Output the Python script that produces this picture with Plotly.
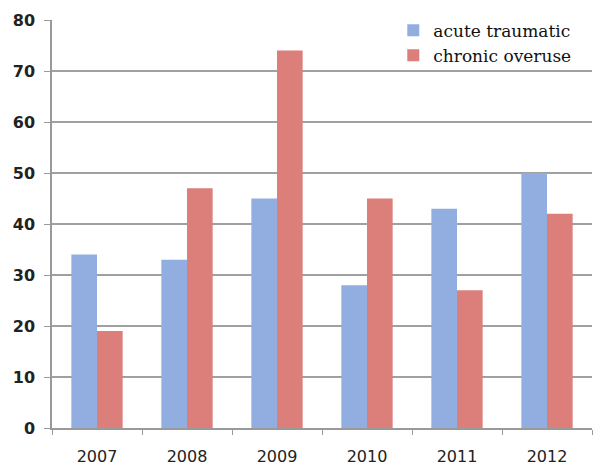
import plotly.graph_objects as go

years = ["2007", "2008", "2009", "2010", "2011", "2012"]
acute = [34, 33, 45, 28, 43, 50]
chronic = [19, 47, 74, 45, 27, 42]
y_ticks = [0, 10, 20, 30, 40, 50, 60, 70, 80]

fig = go.Figure()
fig.add_trace(go.Bar(name="acute traumatic", x=years, y=acute,
                     marker=dict(color="#92aee1", line=dict(width=0))))
fig.add_trace(go.Bar(name="chronic overuse", x=years, y=chronic,
                     marker=dict(color="#dc7e7a", line=dict(width=0))))

fig.update_layout(
    width=595, height=467,
    margin=dict(l=52, r=3, t=20, b=39),
    paper_bgcolor="white", plot_bgcolor="white",
    barmode="group", bargap=0.43, bargroupgap=0,
    showlegend=True,
    legend=dict(x=0.632, y=1.018, xanchor="left", yanchor="top",
                bgcolor="rgba(255,255,255,0)",
                font=dict(family="DejaVu Serif", size=17, color="#111"),
                tracegroupgap=0, itemwidth=30),
    xaxis=dict(showline=True, linecolor="#999", linewidth=1.5,
               ticks="outside", tickson="boundaries", ticklen=5,
               tickcolor="#999", ticklabelstandoff=13, automargin=False,
               tickfont=dict(family="DejaVu Sans", size=16, color="#222"),
               showgrid=False),
    yaxis=dict(range=[0, 80], tickvals=y_ticks, showline=True,
               linecolor="#999", linewidth=1.5, automargin=False,
               ticks="outside", ticklen=6, tickcolor="#999",
               ticklabelstandoff=6,
               showgrid=True, gridcolor="#a0a0a0", gridwidth=1.5,
               zeroline=False,
               tickfont=dict(family="DejaVu Sans", size=16, color="#222",
                             weight="bold")),
)

fig.write_html("out.html")
